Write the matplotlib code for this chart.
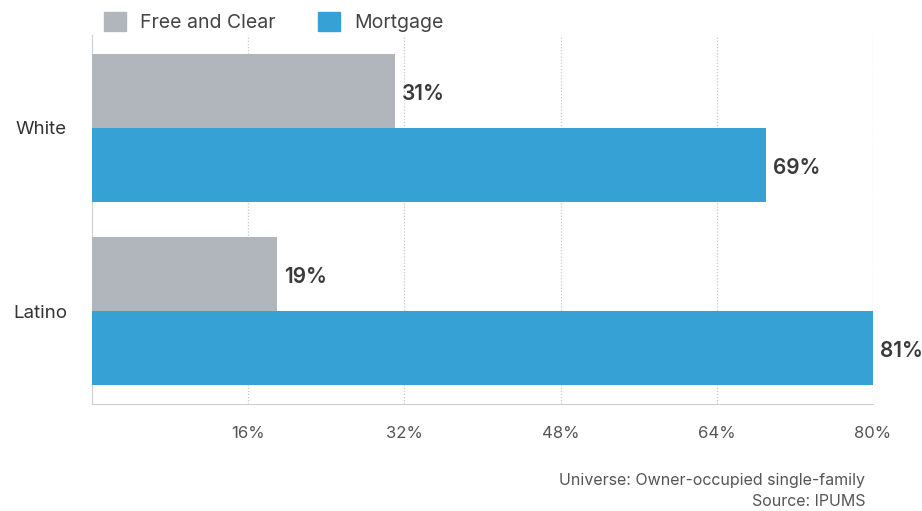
import matplotlib
matplotlib.use("Agg")
import matplotlib.pyplot as plt
import numpy as np
from matplotlib.patches import Patch

categories = ["White", "Latino"]
free_clear = [31, 19]
mortgage = [69, 81]
series_names = ["Free and Clear", "Mortgage"]
xticks = [16, 32, 48, 64, 80]
xtick_labels = ["16%", "32%", "48%", "64%", "80%"]
footnote = ["Universe: Owner-occupied single-family", "Source: IPUMS"]

plt.rcParams['font.family'] = ['Inter', 'DejaVu Sans']

gray = "#B1B6BC"
blue = "#35A1D5"

fig = plt.figure(figsize=(9.22, 5.11), dpi=100)
ax = fig.add_axes([92/922, 1-404/511, (873-92)/922, (404-35)/511])

y = np.arange(len(categories))
h = 0.404
b1 = ax.barh(y - h/2, free_clear, height=h, color=gray, zorder=3)
b2 = ax.barh(y + h/2, mortgage, height=h, color=blue, zorder=3)

for bars, vals in ((b1, free_clear), (b2, mortgage)):
    for bar, v in zip(bars, vals):
        xe = min(v, 80)
        ax.annotate(f"{v}%", xy=(xe, bar.get_y() + bar.get_height()/2),
                    xytext=(5, -2), textcoords="offset points",
                    ha="left", va="center", fontsize=15, fontweight="semibold",
                    color="#3a3a3a", annotation_clip=False, clip_on=False)

ax.set_xlim(0, 80)
ax.set_ylim(1.508, -0.508)
ax.set_yticks(y)
ax.set_yticklabels(categories, fontsize=13.5, color="#333333")
ax.set_xticks(xticks)
ax.set_xticklabels(xtick_labels, fontsize=12, color="#555555")
ax.tick_params(axis="x", length=0, pad=16)
ax.tick_params(axis="y", length=0, pad=18)
ax.grid(axis="x", linestyle=(0, (1, 1.5)), color="#c8c8c8", linewidth=0.9, zorder=0)
for s in ("top", "right"):
    ax.spines[s].set_visible(False)
ax.spines["left"].set_color("#cfcfcf")
ax.spines["bottom"].set_color("#cfcfcf")

handles = [Patch(color=gray), Patch(color=blue)]
fig.legend(handles, series_names, loc="upper left", bbox_to_anchor=(92/922, 1.0),
           ncol=2, frameon=False, fontsize=14, handlelength=1.15, handleheight=1.15,
           handletextpad=0.7, columnspacing=2.2, labelcolor="#444444",
           borderaxespad=0.2)

fig.text(865/922, 1-480/511, footnote[0], ha="right", va="center", fontsize=11.5, color="#555555")
fig.text(865/922, 1-501/511, footnote[1], ha="right", va="center", fontsize=11.5, color="#555555")

fig.savefig("out.png", dpi=100)
